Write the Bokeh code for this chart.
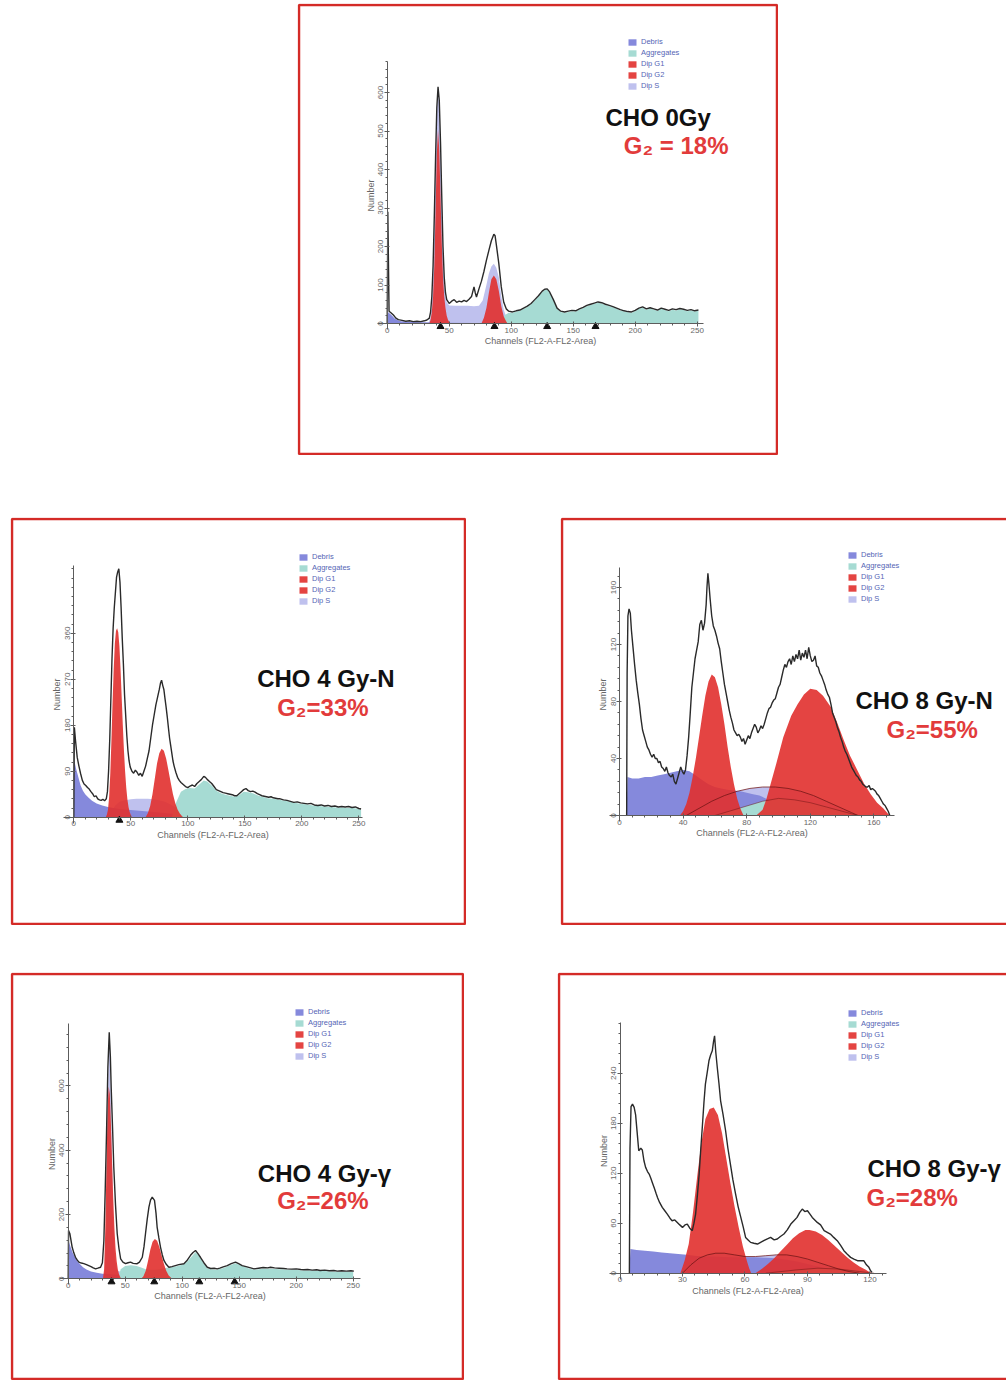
from bokeh.plotting import figure
from bokeh.models import (BoxAnnotation, Label, Legend, LegendItem, FixedTicker, Spacer,
                          LinearAxis)
from bokeh.layouts import column, row
from bokeh.embed import file_html
from bokeh.resources import INLINE

# ------------------------------------------------------------------ data
LEGEND_LABELS = ["Debris", "Aggregates", "Dip G1", "Dip G2", "Dip S"]
X_LABEL = "Channels (FL2-A-FL2-Area)"
Y_LABEL = "Number"

# Panel 1 : CHO 0Gy
P1_TITLE = "CHO 0Gy"
P1_G2_TEXT = "G\u2082 = 18%"
P1_XTICKS = [0, 50, 100, 150, 200, 250]
P1_YTICKS = [0, 100, 200, 300, 400, 500, 600]
P1_MARKS = [43, 86.5, 129, 168]
P1_OUTLINE = [(0, 0), (0.5, 290), (1.5, 32), (3, 28), (5, 22), (7, 14), (9, 10), (12, 8), (15, 6), (18, 7), (21, 5), (24, 6), (27, 5), (30, 7), (32, 9), (34, 14), (35, 30), (36, 70), (37, 150), (38, 280), (39, 430), (40, 560), (41, 615), (42, 580), (43, 470), (44, 330), (45, 200), (46, 120), (47, 80), (48, 62), (50, 52), (52, 58), (54, 62), (56, 55), (58, 58), (60, 56), (62, 60), (64, 57), (66, 63), (68, 70), (70, 95), (71, 80), (72, 69), (74, 90), (76, 110), (78, 135), (80, 164), (82, 190), (84, 215), (86, 232), (87, 228), (88, 205), (90, 156), (92, 95), (94, 55), (96, 38), (98, 32), (101, 30), (104, 33), (107, 35), (110, 40), (113, 45), (116, 52), (119, 62), (122, 72), (125, 84), (127, 89), (129, 90), (131, 82), (134, 62), (137, 40), (140, 32), (143, 30), (146, 32), (149, 34), (152, 33), (155, 38), (158, 42), (161, 47), (164, 50), (167, 53), (170, 56), (173, 54), (176, 50), (179, 47), (182, 44), (185, 40), (188, 36), (191, 33), (194, 31), (197, 30), (200, 34), (203, 40), (206, 43), (209, 38), (212, 41), (215, 38), (218, 35), (221, 40), (224, 37), (227, 34), (230, 38), (233, 36), (236, 39), (239, 37), (242, 34), (245, 36), (248, 33), (251, 35)]
P1_DEBRIS = [(0, 0), (0.5, 30), (2, 26), (4, 20), (6, 13), (8, 9), (11, 6), (15, 5), (20, 4), (30, 3), (45, 2), (70, 1), (100, 0)]
P1_S = [(33, 0), (35, 15), (36, 45), (37, 120), (38, 260), (39, 410), (40, 545), (41, 600), (42, 565), (43, 455), (44, 315), (45, 185), (46, 110), (47, 70), (48, 55), (50, 47), (55, 46), (60, 46), (65, 46), (70, 45), (74, 46), (77, 60), (80, 100), (82, 130), (84, 148), (86, 155), (88, 145), (90, 120), (92, 70), (94, 35), (96, 18), (98, 8), (100, 0)]
P1_G1 = [(34, 0), (35, 10), (36, 30), (37, 70), (38, 150), (39, 290), (40, 440), (41, 503), (42, 450), (43, 330), (44, 210), (45, 120), (46, 70), (47, 40), (48, 20), (49, 10), (50, 4), (51, 0)]
P1_G2 = [(76, 0), (78, 15), (80, 40), (82, 80), (84, 115), (86, 125), (88, 115), (90, 85), (92, 45), (94, 18), (96, 5), (97, 0)]
P1_AGGREGATES = [(92, 0), (95, 22), (98, 28), (101, 28), (104, 31), (107, 33), (110, 38), (113, 43), (116, 50), (119, 60), (122, 70), (125, 82), (127, 87), (129, 88), (131, 80), (134, 60), (137, 38), (140, 30), (143, 28), (146, 30), (149, 32), (152, 31), (155, 36), (158, 40), (161, 45), (164, 48), (167, 51), (170, 54), (173, 52), (176, 48), (179, 45), (182, 42), (185, 38), (188, 34), (191, 31), (194, 29), (197, 28), (200, 32), (203, 38), (206, 41), (209, 36), (212, 39), (215, 36), (218, 33), (221, 38), (224, 35), (227, 32), (230, 36), (233, 34), (236, 37), (239, 35), (242, 32), (245, 34), (248, 31), (251, 33)]

# Panel 2 : CHO 4 Gy-N
P2_TITLE = "CHO 4 Gy-N"
P2_G2_TEXT = "G\u2082=33%"
P2_XTICKS = [0, 50, 100, 150, 200, 250]
P2_YTICKS = [0, 90, 180, 270, 360]
P2_MARKS = [40]
P2_OUTLINE = [(0, 0), (0.5, 176), (1.5, 150), (3, 117), (4.5, 100), (6, 85), (7.5, 72), (9, 65), (10.5, 62), (12, 58), (13.5, 55), (15, 50), (16.5, 46), (18, 40), (19.5, 42), (21, 36), (22.5, 34), (24, 33), (25.5, 35), (27, 32), (28.5, 36), (29.5, 50), (30.5, 90), (31.5, 150), (32.5, 230), (33.5, 310), (34.5, 370), (35.5, 410), (36.5, 440), (37.5, 470), (38.5, 480), (39.5, 486), (40.5, 460), (41.5, 410), (42.5, 350), (43.5, 300), (44.5, 240), (45.5, 200), (46.5, 160), (47.5, 130), (48.5, 110), (49.5, 98), (51, 90), (52.5, 86), (54, 92), (55.5, 88), (57, 82), (58.5, 86), (60, 80), (61.5, 90), (63, 100), (64.5, 115), (66, 130), (67.5, 155), (69, 180), (70.5, 200), (72, 220), (73.5, 235), (75, 250), (76, 262), (77, 268), (78, 258), (79, 250), (80, 232), (81, 215), (82, 196), (83, 175), (84, 155), (85, 140), (86, 125), (87, 110), (88, 100), (89.5, 88), (91, 78), (92.5, 72), (94, 68), (96, 64), (98, 60), (100, 58), (102, 61), (104, 63), (106, 60), (108, 66), (110, 70), (112, 74), (114, 80), (115.5, 78), (117, 74), (119, 70), (121, 66), (123, 60), (125, 54), (127, 52), (129, 50), (131, 48), (133, 47), (135, 46), (137, 45), (139, 44), (141, 42), (143, 42), (145, 46), (147, 50), (149, 54), (151, 56), (153, 52), (155, 50), (157, 51), (159, 49), (161, 46), (163, 44), (165, 42), (167, 41), (169, 40), (171, 39), (173, 40), (175, 38), (177, 37), (179, 36), (181, 36), (184, 34), (187, 33), (190, 31), (193, 29), (196, 30), (199, 28), (202, 27), (205, 26), (208, 27), (211, 24), (214, 23), (217, 24), (220, 22), (223, 23), (226, 21), (229, 22), (232, 20), (235, 21), (238, 20), (241, 21), (244, 19), (247, 20), (250, 17), (252, 16)]
P2_DEBRIS = [(0, 0), (0.5, 110), (2, 95), (4, 78), (6, 62), (8, 52), (10, 45), (13, 38), (16, 32), (20, 27), (25, 23), (30, 20), (35, 18), (40, 16), (50, 14), (60, 12), (70, 10), (80, 8), (90, 6), (100, 4), (110, 2), (120, 0)]
P2_S = [(30, 0), (33, 10), (36, 22), (40, 30), (45, 33), (50, 35), (55, 36), (60, 36), (65, 36), (70, 35), (75, 33), (80, 30), (85, 25), (90, 18), (95, 10), (100, 0)]
P2_G1 = [(28, 0), (29, 5), (30, 15), (31, 40), (32, 85), (33, 150), (34, 225), (35, 290), (36, 340), (37, 365), (38, 370), (39, 362), (40, 335), (41, 290), (42, 235), (43, 180), (44, 130), (45, 90), (46, 58), (47, 35), (48, 20), (49, 10), (50, 5), (51, 0)]
P2_G2 = [(63, 0), (65, 8), (67, 22), (69, 45), (71, 75), (73, 105), (75, 125), (77, 134), (79, 130), (81, 115), (83, 92), (85, 68), (87, 45), (89, 28), (91, 15), (93, 7), (95, 2), (96, 0)]
P2_AGGREGATES = [(86, 0), (90, 30), (94, 50), (98, 55), (102, 57), (106, 56), (110, 64), (114, 72), (117, 70), (121, 62), (125, 52), (129, 47), (133, 44), (137, 42), (141, 40), (145, 43), (149, 50), (153, 49), (157, 47), (161, 43), (165, 40), (170, 37), (175, 36), (180, 34), (185, 32), (190, 30), (195, 28), (200, 26), (205, 25), (210, 23), (215, 22), (220, 21), (225, 20), (230, 19), (235, 19), (240, 18), (245, 18), (250, 16), (252, 15)]

# Panel 3 : CHO 8 Gy-N
P3_TITLE = "CHO 8 Gy-N"
P3_G2_TEXT = "G\u2082=55%"
P3_XTICKS = [0, 40, 80, 120, 160]
P3_YTICKS = [0, 40, 80, 120, 160]
P3_MARKS = []
P3_OUTLINE = [(4.5, 0), (4.8, 100), (5.3, 140), (6, 145), (6.8, 142), (7.5, 130), (8.5, 118), (9.5, 106), (10.5, 95), (11.5, 86), (12.5, 78), (13.5, 68), (14.5, 60), (15.5, 56), (16.5, 52), (17.5, 48), (18.5, 46), (19.5, 43), (20.5, 41), (21.5, 43), (22.5, 40), (23.5, 40), (24.5, 37), (25.5, 38), (26.5, 34), (27.5, 33), (28.5, 31), (29.5, 34), (30.5, 30), (31.5, 28), (32.5, 27), (33.5, 29), (34.5, 24), (35.5, 22), (36.5, 26), (37.5, 30), (38.5, 34), (39.5, 31), (40.5, 29), (41.5, 32), (42.5, 42), (43.5, 55), (44.5, 72), (45.5, 90), (46.5, 100), (47.5, 110), (48.5, 116), (49.5, 122), (50.5, 134), (51.5, 137), (52.5, 130), (53.5, 135), (54.5, 148), (55, 160), (55.6, 170), (56.2, 163), (57, 152), (58, 140), (59, 133), (60, 130), (61, 126), (62, 121), (63, 117), (64, 108), (65, 100), (66, 92), (67, 86), (68, 80), (69, 74), (70, 69), (71, 65), (72, 60), (73, 58), (74, 56), (75, 57), (76, 55), (77, 52), (78, 54), (79, 50), (80, 53), (81, 56), (82, 54), (83, 58), (84, 61), (85, 64), (86, 62), (87, 58), (88, 60), (89, 63), (90, 61), (91, 64), (92, 68), (93, 72), (94, 75), (95, 76), (96, 79), (97, 81), (98, 82), (99, 86), (100, 90), (101, 92), (102, 97), (103, 102), (104, 106), (105, 104), (106, 108), (107, 110), (108, 106), (109, 112), (110, 108), (111, 113), (112, 110), (113, 116), (114, 109), (115, 114), (116, 111), (117, 116), (118, 110), (119, 118), (120, 112), (121, 108), (122, 109), (123, 112), (124, 105), (125, 104), (126, 100), (127, 98), (128, 95), (129, 92), (130, 88), (131, 85), (132, 83), (133, 78), (134, 72), (135, 69), (136, 66), (137, 62), (138, 59), (139, 55), (140, 52), (141, 48), (142, 45), (143, 43), (144, 40), (145, 37), (146, 34), (147, 32), (148, 30), (149, 28), (150, 27), (151, 25), (152, 24), (153, 22), (154, 21), (155, 20), (156, 20), (157, 21), (158, 18), (159, 19), (160, 18), (161, 17), (162, 15), (163, 14), (164, 12), (165, 10), (166, 8), (167, 7), (168, 5), (169, 3), (170, 0)]
P3_DEBRIS = [(4.5, 0), (5, 27), (8, 26), (12, 26), (16, 27), (20, 27), (24, 28), (28, 29), (32, 30), (36, 31), (40, 32), (44, 31), (48, 28), (52, 25), (56, 22), (60, 20), (64, 19), (68, 18), (72, 17.5), (76, 17), (80, 16), (84, 15), (88, 14), (92, 12), (96, 10), (100, 8), (110, 5), (120, 2), (130, 0)]
P3_S = [(42, 0), (50, 5), (58, 10), (66, 14), (74, 17), (82, 19), (90, 20), (98, 20), (106, 19), (114, 17), (122, 14), (130, 10), (138, 6), (146, 2), (150, 0)]
P3_G1 = [(38, 0), (40, 3), (42, 8), (44, 16), (46, 27), (48, 40), (50, 55), (52, 70), (54, 84), (56, 94), (58, 99), (60, 97), (62, 90), (64, 78), (66, 64), (68, 48), (70, 34), (72, 22), (74, 12), (76, 5), (78, 0)]
P3_G2 = [(86, 0), (90, 4), (92.5, 12), (95, 22), (99, 38), (103, 55), (108, 70), (112, 78), (116, 85), (120, 89), (124, 88), (128, 84), (133, 76), (137, 65), (141, 53), (145, 42), (149.5, 32), (154, 22), (158, 15), (162, 9), (166, 5), (169, 1), (170, 0)]
P3_AGGREGATES = [(60, 0), (75, 5), (90, 10), (100, 12), (110, 11), (120, 9), (130, 6), (140, 3), (150, 0)]

# Panel 4 : CHO 4 Gy-gamma
P4_TITLE = "CHO 4 Gy-\u03b3"
P4_G2_TEXT = "G\u2082=26%"
P4_XTICKS = [0, 50, 100, 150, 200, 250]
P4_YTICKS = [0, 200, 400, 600]
P4_MARKS = [38, 75.5, 115, 146]
P4_OUTLINE = [(0, 0), (0.3, 150), (1.5, 140), (3.5, 98), (5, 80), (6.4, 67), (8, 58), (9.4, 52), (11.5, 49), (13.7, 47), (16, 44), (18, 41), (20, 38), (22, 34), (24, 31), (26, 33), (28.4, 36), (30, 50), (31.3, 119), (32.5, 280), (33.6, 451), (34.8, 658), (36, 767), (37, 690), (37.7, 596), (39, 460), (40, 347), (41.5, 230), (43, 140), (44.5, 95), (46, 62), (48, 52), (50.3, 47), (52.5, 50), (54.7, 52), (57, 48), (60.5, 47), (62.5, 52), (65, 67), (66.5, 100), (67.8, 140), (69.3, 185), (70.8, 223), (72.2, 245), (73.7, 254), (75.7, 244), (77, 205), (78, 161), (79.5, 128), (81, 98), (82.5, 75), (84, 57), (86, 45), (88.3, 36), (91, 38), (94, 41), (97, 44), (101.5, 47), (104, 56), (107.3, 73), (109.5, 82), (111.7, 88), (113.5, 80), (116, 67), (119, 50), (122, 36), (125, 32), (128, 33), (130.7, 31), (133, 33), (136, 37), (139.5, 41), (143, 47), (146.8, 52), (149.5, 47), (152.6, 41), (156, 38), (160, 34), (163, 31), (167, 33), (171, 35), (175, 34), (177.5, 36), (181, 34), (185, 33), (189, 32), (192, 31), (196, 30), (200, 31), (204, 29), (206.7, 28), (210, 29), (214, 27), (218, 28), (221, 26), (225, 27), (229, 25), (233, 26), (236, 24), (240, 25), (244, 24), (248, 25), (250.6, 24)]
P4_DEBRIS = [(0, 0), (0.3, 119), (2, 100), (4, 80), (6, 67), (8, 55), (10, 47), (13, 36), (16, 29), (20, 23), (25, 19), (30, 16), (35, 15), (40, 13), (50, 11), (60, 9), (70, 7), (80, 5), (90, 3), (100, 1), (110, 0)]
P4_S = [(30, 0), (32, 20), (33.6, 200), (34.8, 560), (36, 740), (37, 640), (38, 450), (39.5, 200), (41, 60), (43, 25), (50, 18), (60, 18), (70, 15), (80, 10), (90, 5), (100, 0)]
P4_G1 = [(30.5, 0), (31.5, 30), (32.5, 150), (33.5, 340), (34.5, 520), (35.5, 598), (36.5, 575), (37.5, 480), (38.5, 360), (39.5, 250), (40.5, 160), (41.5, 95), (42.5, 55), (43.5, 30), (44.5, 15), (45.5, 6), (46.5, 0)]
P4_G2 = [(64, 0), (66, 8), (68, 25), (70, 55), (72, 90), (74, 115), (76, 124), (78, 118), (80, 98), (82, 72), (84, 46), (86, 25), (88, 11), (90, 4), (91, 0)]
P4_AGGREGATES = [(44, 0), (46, 30), (50, 40), (55, 42), (60, 40), (64, 35), (68, 30), (72, 28), (76, 28), (80, 30), (84, 33), (88, 35), (92, 37), (96, 40), (100, 44), (104, 52), (108, 68), (111.7, 83), (115, 70), (119, 47), (122, 33), (126, 29), (130, 28), (134, 31), (138, 36), (142, 42), (146.8, 48), (150, 44), (154, 38), (158, 33), (162, 29), (166, 29), (170, 31), (175, 31), (180, 31), (185, 30), (190, 29), (195, 28), (200, 28), (205, 26), (210, 26), (215, 25), (220, 24), (225, 24), (230, 23), (235, 22), (240, 22), (245, 22), (250, 21)]

# Panel 5 : CHO 8 Gy-gamma
P5_TITLE = "CHO 8 Gy-\u03b3"
P5_G2_TEXT = "G\u2082=28%"
P5_XTICKS = [0, 30, 60, 90, 120]
P5_YTICKS = [0, 60, 120, 180, 240]
P5_MARKS = []
P5_OUTLINE = [(4.5, 0), (4.8, 150), (5.3, 200), (6, 203), (6.8, 199), (7.5, 190), (8.2, 170), (9, 147), (10, 150), (10.7, 148), (11.5, 135), (12.3, 127), (13.2, 122), (14, 119), (14.8, 114), (15.5, 109), (16.5, 102), (17.3, 96), (18, 91), (19, 85), (20.3, 79), (21.5, 75), (22.7, 71), (24, 66), (25, 63), (26.3, 64), (27.5, 61), (28.7, 58), (30, 55), (31.2, 58), (32.3, 59), (33.5, 54), (34.7, 51), (35.5, 60), (36.3, 71), (37.2, 95), (38, 119), (38.8, 150), (39.5, 175), (40.3, 205), (41, 227), (41.8, 240), (42.7, 255), (43.5, 262), (44.3, 267), (44.9, 278), (45.4, 285), (46, 265), (46.7, 247), (47.5, 228), (48.3, 207), (49.5, 190), (50.7, 171), (51.8, 150), (53, 131), (54.2, 112), (55.5, 95), (56.7, 80), (58, 67), (59.2, 55), (60.3, 43), (61.5, 40), (62.7, 37), (64.3, 36), (66, 35), (67.5, 37), (69, 39), (70.5, 41), (72.3, 43), (74, 40), (75.5, 41), (77, 44), (78.7, 47), (80.3, 52), (82, 59), (83.5, 63), (85, 67), (86.3, 73), (87.5, 77), (88.7, 74), (90, 75), (91.2, 71), (92.3, 67), (93.5, 64), (94.7, 61), (96.3, 58), (98, 51), (99.5, 49), (101, 47), (102.6, 43), (104.3, 39), (106, 33), (107.5, 27), (109, 23), (110.7, 19), (112.3, 17), (114, 15), (115.5, 15), (117, 15), (118.3, 10), (119.5, 7), (120.3, 3), (121, 1)]
P5_DEBRIS = [(4.5, 0), (5, 29), (8, 28), (12, 27), (16, 26), (20, 25), (24, 24), (28, 23), (32, 22), (36, 21), (40, 20), (45, 20), (50, 19.5), (55, 19), (60, 19), (65, 19), (70, 18.5), (75, 18), (80, 16), (85, 14), (90, 11), (95, 8), (100, 5), (110, 2), (120, 0)]
P5_S = [(30, 0), (34, 10), (38, 18), (42, 22), (46, 24), (50, 24), (55, 22), (60, 20), (65, 20), (70, 21), (75, 22), (80, 22), (85, 20), (90, 17), (95, 13), (100, 9), (105, 5), (110, 2), (115, 0)]
P5_G1 = [(29, 0), (31, 15), (33, 35), (35, 72), (37, 115), (39, 155), (41, 185), (43, 197), (45, 199), (47, 190), (49, 168), (51, 138), (53, 108), (55, 80), (57, 55), (59, 32), (61, 14), (62, 6), (63, 0)]
P5_G2 = [(65, 0), (68, 5), (71, 11), (74, 18), (77, 26), (80, 34), (83, 42), (86, 48), (89, 52), (91, 52), (94, 50), (97, 46), (100, 40), (103, 33), (106, 26), (109, 19), (112, 13), (115, 8), (118, 4), (120, 1), (121, 0)]
P5_AGGREGATES = [(70, 0), (85, 4), (95, 6), (105, 5), (115, 2), (122, 0)]

# ------------------------------------------------------------------ style
FONT = "Liberation Sans"
BOX_RED = "#d42b27"
TEXT_RED = "#e23b3b"
C_DEBRIS = "#8589dc"
C_AGG = "#a6dbd3"
C_G = "#e1302e"
C_S = "#bfc1ee"
AXIS_GREY = "#5c5c5c"


def pts(lst):
    return [a for a, _ in lst], [b for _, b in lst]


def make_panel(cfg, d):
    bx, by, bw, bh = cfg["box"]
    x0, pxc, xmin, xmax = cfg["x0"], cfg["pxc"], cfg["xmin"], cfg["xmax"]
    y0, pxn, ymax = cfg["y0"], cfg["pxn"], cfg["ymax"]
    ymin = -6.0 / pxn
    # the plotting frame fills the whole panel; ranges are chosen so that the
    # histogram axes land where the reference shows them
    xr0 = (bx - x0) / pxc
    xr1 = (bx + bw - x0) / pxc
    yr1 = (y0 - by) / pxn
    yr0 = (y0 - (by + bh)) / pxn
    p = figure(width=bw, height=bh, x_range=(xr0, xr1), y_range=(yr0, yr1),
               output_backend="svg", toolbar_location=None, min_border=0,
               x_axis_location=None, y_axis_location=None,
               background_fill_color="white", border_fill_color="white",
               outline_line_color=None)
    p.grid.visible = False

    def to_data(px, py):
        return (px - x0) / pxc, (y0 - py) / pxn

    def area(lst, color, alpha=1.0):
        xs, ys = pts(lst)
        return p.varea(x=xs, y1=0, y2=ys, fill_color=color, fill_alpha=alpha)

    r_s = area(d["s"], C_S)
    r_deb = area(d["debris"], C_DEBRIS)
    r_agg = area(d["agg"], C_AGG)
    r_g1 = area(d["g1"], C_G, 0.9)
    r_g2 = area(d["g2"], C_G, 0.9)
    if cfg.get("s_line"):
        xs, ys = pts(d["s"])
        p.line(xs, ys, line_color="#6e1414", line_alpha=0.75, line_width=1)
        xs, ys = pts(d["agg"])
        p.line(xs, ys, line_color="#6e1414", line_alpha=0.5, line_width=1)
    xs, ys = pts(d["outline"])
    p.line(xs, ys, line_color="#2a2a2a", line_width=1.4)
    if d["marks"]:
        p.scatter(x=d["marks"], y=[-3.0 / pxn] * len(d["marks"]), marker="triangle",
                  size=7, fill_color="#111111", line_color="#111111")

    # axes crossing at the origin
    xaxis = LinearAxis(fixed_location=0, bounds=(xmin, xmax), axis_label=X_LABEL,
                       ticker=FixedTicker(ticks=d["xticks"], minor_ticks=d["xminor"]))
    yaxis = LinearAxis(fixed_location=0, bounds=(ymin, ymax), axis_label=Y_LABEL,
                       ticker=FixedTicker(ticks=d["yticks"], minor_ticks=d["yminor"]),
                       major_label_orientation="vertical")
    for ax in (xaxis, yaxis):
        ax.axis_line_color = AXIS_GREY
        ax.major_tick_line_color = AXIS_GREY
        ax.minor_tick_line_color = AXIS_GREY
        ax.major_tick_in = 2
        ax.major_tick_out = 3
        ax.minor_tick_in = 0
        ax.minor_tick_out = 2
        ax.major_label_text_font = FONT
        ax.major_label_text_font_size = "8px"
        ax.major_label_text_color = "#666666"
        ax.major_label_standoff = 1
        ax.axis_label_text_font = FONT
        ax.axis_label_text_font_size = "9px"
        ax.axis_label_text_font_style = "normal"
        ax.axis_label_text_color = "#666666"
        ax.axis_label_standoff = 0
    p.add_layout(xaxis, "below")
    p.add_layout(yaxis, "left")

    # legend
    lx, ly = cfg["legend"]
    legend = Legend(items=[LegendItem(label=LEGEND_LABELS[0], renderers=[r_deb]),
                           LegendItem(label=LEGEND_LABELS[1], renderers=[r_agg]),
                           LegendItem(label=LEGEND_LABELS[2], renderers=[r_g1]),
                           LegendItem(label=LEGEND_LABELS[3], renderers=[r_g2]),
                           LegendItem(label=LEGEND_LABELS[4], renderers=[r_s])],
                    location=(lx - bx, by + bh - (ly + 48)), orientation="vertical",
                    glyph_width=10, glyph_height=8, label_height=8, label_width=10,
                    spacing=2, padding=0, margin=0, label_standoff=4,
                    label_text_font=FONT, label_text_font_size="7.5px",
                    label_text_color="#5565b5", border_line_alpha=0,
                    background_fill_alpha=0)
    p.add_layout(legend)

    # titles
    tx, ty = to_data(*cfg["title_pos"])
    p.add_layout(Label(x=tx, y=ty, text=d["title"], text_font=FONT,
                       text_font_size="24px", text_font_style="bold", text_color="#111111",
                       text_align="left", text_baseline="alphabetic"))
    gx, gy = to_data(*cfg["g2_pos"])
    p.add_layout(Label(x=gx, y=gy, text=d["g2text"], text_font=FONT,
                       text_font_size="24px", text_font_style="bold", text_color=TEXT_RED,
                       text_align="left", text_baseline="alphabetic"))

    # red frame round the panel
    right = bw - 1.5 if not cfg.get("open_right") else bw + 6
    p.add_layout(BoxAnnotation(left=1.5, right=right, top=1.5, bottom=bh - 1.5,
                               left_units="canvas", right_units="canvas",
                               top_units="canvas", bottom_units="canvas",
                               fill_alpha=0, line_color=BOX_RED, line_alpha=1.0,
                               line_width=2.5, level="overlay"))
    return p


def data(title, g2text, xt, yt, xminor, yminor, marks, outline, debris, s, g1, g2, agg):
    return dict(title=title, g2text=g2text, xticks=xt, yticks=yt, xminor=xminor,
                yminor=yminor, marks=marks, outline=outline, debris=debris, s=s,
                g1=g1, g2=g2, agg=agg)


D1 = data(P1_TITLE, P1_G2_TEXT, P1_XTICKS, P1_YTICKS, list(range(0, 256, 10)),
          list(range(0, 681, 20)), P1_MARKS, P1_OUTLINE, P1_DEBRIS, P1_S, P1_G1, P1_G2, P1_AGGREGATES)
D2 = data(P2_TITLE, P2_G2_TEXT, P2_XTICKS, P2_YTICKS, list(range(0, 254, 10)),
          list(range(0, 493, 18)), P2_MARKS, P2_OUTLINE, P2_DEBRIS, P2_S, P2_G1, P2_G2, P2_AGGREGATES)
D3 = data(P3_TITLE, P3_G2_TEXT, P3_XTICKS, P3_YTICKS, list(range(0, 174, 8)),
          list(range(0, 175, 8)), P3_MARKS, P3_OUTLINE, P3_DEBRIS, P3_S, P3_G1, P3_G2, P3_AGGREGATES)
D4 = data(P4_TITLE, P4_G2_TEXT, P4_XTICKS, P4_YTICKS, list(range(0, 257, 10)),
          list(range(0, 794, 40)), P4_MARKS, P4_OUTLINE, P4_DEBRIS, P4_S, P4_G1, P4_G2, P4_AGGREGATES)
D5 = data(P5_TITLE, P5_G2_TEXT, P5_XTICKS, P5_YTICKS, list(range(0, 129, 6)),
          list(range(0, 302, 12)), P5_MARKS, P5_OUTLINE, P5_DEBRIS, P5_S, P5_G1, P5_G2, P5_AGGREGATES)

C1 = dict(box=(297, 3, 481, 452), x0=386.7, pxc=1.24, xmin=-8, xmax=255,
          y0=323.0, pxn=0.385, ymax=680, legend=(627, 42),
          title_pos=(605, 116.7), g2_pos=(623.3, 145))
C2 = dict(box=(10, 517, 456, 408), x0=73.3, pxc=1.14, xmin=-9, xmax=253,
          y0=816.7, pxn=0.511, ymax=492, legend=(298, 557),
          title_pos=(256.7, 678), g2_pos=(276.7, 706.7))
C3 = dict(box=(560, 517, 446, 408), x0=619.0, pxc=1.59, xmin=-6, xmax=173,
          y0=815.0, pxn=1.425, ymax=174, legend=(847, 555),
          title_pos=(855, 700), g2_pos=(886, 729), open_right=True, s_line=True)
C4 = dict(box=(10, 972, 454, 408), x0=67.7, pxc=1.14, xmin=-8, xmax=256,
          y0=1278.3, pxn=0.3215, ymax=793, legend=(294, 1012),
          title_pos=(257.3, 1173), g2_pos=(276.7, 1200))
C5 = dict(box=(557, 972, 449, 408), x0=619.5, pxc=2.083, xmin=-5, xmax=128,
          y0=1272.7, pxn=0.833, ymax=301, legend=(847, 1013),
          title_pos=(867, 1168), g2_pos=(866, 1197), open_right=True, s_line=True)

p1 = make_panel(C1, D1)
p2 = make_panel(C2, D2)
p3 = make_panel(C3, D3)
p4 = make_panel(C4, D4)
p5 = make_panel(C5, D5)

layout = column(
    Spacer(width=10, height=3),
    row(Spacer(width=297, height=452), p1),
    Spacer(width=10, height=62),
    row(Spacer(width=10, height=408), p2, Spacer(width=94, height=408), p3),
    Spacer(width=10, height=47),
    row(Spacer(width=10, height=408), p4, Spacer(width=93, height=408), p5),
)

open("out.html", "w").write(file_html(layout, INLINE))
